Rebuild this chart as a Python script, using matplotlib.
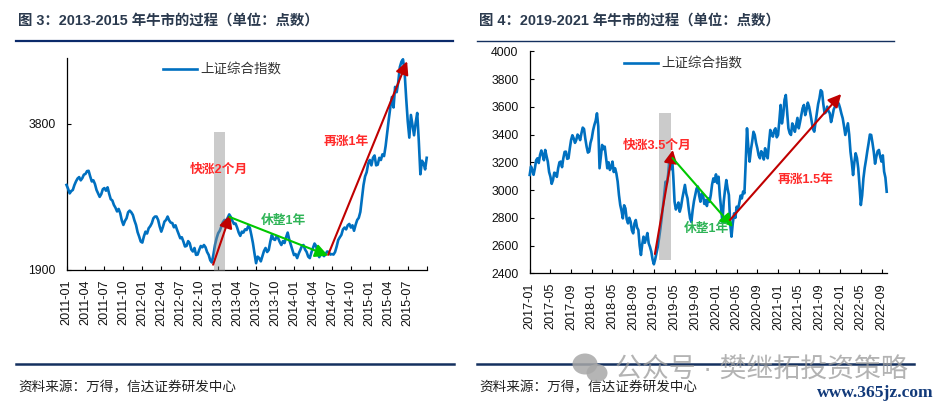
#!/usr/bin/env python3
import matplotlib
matplotlib.use("Agg")
import matplotlib.pyplot as plt
from matplotlib.lines import Line2D
from matplotlib.patches import Ellipse
import numpy as np

plt.rcParams["font.family"] = ["Liberation Sans", "Noto Sans CJK SC", "DejaVu Sans"]

W, H = 940, 408
BLUE = "#0070c0"
DARKRED = "#c00000"
RED = "#ff2a2a"
GREEN = "#00c800"
GREEN_TXT = "#2fb457"
NAVY = "#14305f"

# quarter-month samples
sse_left = [
    2842, 2790, 2730, 2760, 2775, 2840, 2890, 2930, 2950, 2905, 2935, 2985, 2995, 3035, 3040, 2960,
    2890, 2905, 2855, 2775, 2730, 2685, 2720, 2785, 2800, 2765, 2810, 2725, 2655, 2640, 2584, 2550,
    2505, 2535, 2485, 2400, 2349, 2395, 2425, 2495, 2515, 2495, 2464, 2400, 2349, 2270, 2222, 2170,
    2160, 2225, 2275, 2255, 2312, 2335, 2368, 2425, 2445, 2445, 2406, 2330, 2275, 2325, 2387, 2405,
    2445, 2400, 2375, 2370, 2323, 2345, 2294, 2250, 2205, 2215, 2170, 2120, 2126, 2175, 2153, 2090,
    2070, 2105, 2037, 2040, 2086, 2125, 2112, 2135, 2112, 2065, 2037, 1985, 1965, 2040, 2136, 2205,
    2258, 2285, 2330, 2380, 2406, 2395, 2430, 2470, 2440, 2395, 2360, 2365, 2320, 2265, 2230, 2275,
    2265, 2300, 2293, 2335, 2320, 2240, 2155, 2050, 1958, 2020, 2006, 1975, 2025, 2075, 2105, 2065,
    2085, 2170, 2241, 2195, 2187, 2225, 2205, 2165, 2135, 2175, 2155, 2215, 2265, 2190, 2135, 2085,
    2035, 2045, 2006, 2050, 2085, 2125, 2135, 2090, 2065, 2020, 2006, 2060, 2105, 2150, 2125, 2050,
    2015, 2055, 2045, 2025, 2045, 2070, 2065, 2040, 2045, 2040, 2065, 2120, 2187, 2215, 2241, 2300,
    2320, 2300, 2345, 2360, 2320, 2345, 2285, 2350, 2405, 2430, 2500, 2660, 2840, 2960, 3020, 3150,
    3201, 3120, 3234, 3270, 3120, 3130, 3234, 3200, 3288, 3260, 3420, 3650, 3885, 4120, 4320, 4110,
    4533, 4420, 4640, 4980, 5110, 5170, 4868, 4300, 3848, 3560, 3966, 3780, 3600, 3820, 4004, 3500,
    2990, 3190, 3150, 3060, 3234,
]
left_months = 57
left_labels = [
    "2011-01", "2011-04", "2011-07", "2011-10", "2012-01", "2012-04", "2012-07",
    "2012-10", "2013-01", "2013-04", "2013-07", "2013-10", "2014-01", "2014-04",
    "2014-07", "2014-10", "2015-01", "2015-04", "2015-07",
]
left_yticks = [1900, 3800]

# quarter-month samples
sse_right = [
    3109, 3170, 3145, 3110, 3157, 3215, 3229, 3195, 3253, 3285, 3253, 3215, 3289, 3245, 3205, 3130,
    3097, 3045, 3073, 3125, 3121, 3095, 3157, 3200, 3205, 3165, 3229, 3275, 3277, 3225, 3229, 3300,
    3361, 3395, 3373, 3340, 3361, 3400, 3385, 3360, 3409, 3450, 3440, 3370, 3313, 3270, 3277, 3340,
    3373, 3430, 3469, 3500, 3553, 3460, 3157, 3240, 3325, 3295, 3313, 3235, 3157, 3200, 3145, 3165,
    3205, 3130, 3157, 3120, 3061, 2965, 2892, 2850, 2796, 2890, 2868, 2790, 2760, 2800, 2772, 2710,
    2688, 2760, 2784, 2730, 2712, 2600, 2532, 2610, 2664, 2620, 2652, 2690, 2616, 2590, 2556, 2500,
    2465, 2500, 2544, 2590, 2652, 2720, 2796, 2880, 2964, 3060, 3048, 3110, 3217, 3150, 3241, 3100,
    2916, 2860, 2880, 2910, 2844, 2880, 2940, 2990, 3037, 2975, 2940, 2860, 2796, 2770, 2856, 2920,
    2964, 3010, 3025, 2960, 2916, 2975, 2964, 2900, 2928, 2885, 2940, 2915, 2964, 3040, 3084, 3060,
    3113, 3050, 3096, 2960, 2868, 2770, 2916, 3000, 3072, 3010, 2964, 2760, 2664, 2760, 2832, 2800,
    2880, 2860, 2904, 2960, 2940, 2990, 2976, 3200, 3445, 3310, 3205, 3290, 3349, 3420, 3397, 3340,
    3301, 3250, 3229, 3280, 3265, 3220, 3301, 3250, 3229, 3340, 3433, 3400, 3385, 3430, 3445, 3380,
    3397, 3500, 3613, 3480, 3541, 3650, 3685, 3560, 3445, 3410, 3397, 3480, 3457, 3420, 3469, 3520,
    3445, 3490, 3541, 3590, 3613, 3540, 3577, 3630, 3601, 3550, 3493, 3440, 3421, 3490, 3553, 3620,
    3661, 3720, 3709, 3620, 3553, 3560, 3601, 3570, 3553, 3490, 3529, 3580, 3601, 3650, 3637, 3620,
    3589, 3550, 3517, 3460, 3397, 3440, 3481, 3400, 3276, 3200, 3108, 3200, 3265, 3230, 3156, 3030,
    2892, 2960, 3084, 3160, 3217, 3280, 3337, 3400, 3397, 3340, 3276, 3190, 3241, 3280, 3289, 3240,
    3205, 3250, 3133, 3090, 2988,
]
right_months = 69
right_labels = [
    "2017-01", "2017-05", "2017-09", "2018-01", "2018-05", "2018-09",
    "2019-01", "2019-05", "2019-09", "2020-01", "2020-05", "2020-09",
    "2021-01", "2021-05", "2021-09", "2022-01", "2022-05", "2022-09",
]
right_yticks = [2400, 2600, 2800, 3000, 3200, 3400, 3600, 3800, 4000]

# arrows: (x0, y0, x1, y1, color) in months / index points
left_arrows = [
    (23.2, 1944, 25.9, 2465, DARKRED),
    (25.8, 2440, 41.4, 2030, GREEN),
    (41.4, 2037, 53.9, 5120, DARKRED),
]
right_arrows = [
    (24.2, 2539, 27.66, 3289, DARKRED),
    (27.6, 3231, 39.25, 2734, GREEN),
    (38.7, 2784, 60.2, 3692, DARKRED),
]
left_notes = [
    ("快涨2个月", 24.1, 3052, RED),
    ("再涨1年", 44.2, 3470, RED),
    ("休整1年", 34.4, 2395, GREEN_TXT),
]
right_notes = [
    ("快涨3.5个月", 24.6, 3317, RED),
    ("再涨1.5年", 53.3, 3065, RED),
    ("休整1年", 34.2, 2719, GREEN_TXT),
]

# full-width punctuation, written as escapes so it stays full-width
title_left = "图 3\uff1a2013-2015 年牛市的过程\uff08单位\uff1a点数\uff09"
title_right = "图 4\uff1a2019-2021 年牛市的过程\uff08单位\uff1a点数\uff09"
source_text = "资料来源\uff1a万得\uff0c信达证券研发中心"


def axes_px(fig, x0, y_top, x1, y_bottom):
    return fig.add_axes([x0 / W, 1 - y_bottom / H, (x1 - x0) / W, (y_bottom - y_top) / H])


def hline(fig, x0, x1, y, color, lw):
    fig.add_artist(Line2D([x0 / W, x1 / W], [1 - y / H, 1 - y / H], color=color, lw=lw))


def draw_panel(ax, values, months, labels, step, arrows, notes, band, legend_at):
    xs = np.linspace(0, months, len(values))
    ax.plot(xs, values, color=BLUE, lw=1.9, label="上证综合指数", clip_on=False, zorder=3)
    # grey band sits over the line, the line shows through muted
    ax.fill_between(band[:2], band[2], band[3], color="#8c8c8c", alpha=0.45, lw=0,
                    clip_on=False, zorder=4)

    for x0, y0, x1, y1, c in arrows:
        ax.annotate("", xy=(x1, y1), xytext=(x0, y0), zorder=5, annotation_clip=False,
                    arrowprops=dict(arrowstyle="-|>,head_length=0.55,head_width=0.28",
                                    color=c, lw=1.5, shrinkA=0, shrinkB=0, mutation_scale=14))
    for txt, x, y, c in notes:
        ax.text(x, y, txt, color=c, fontsize=9.2, fontweight="bold", ha="center", va="center",
                zorder=6)

    ticks = list(np.arange(len(labels)) * step)
    tick_labels = list(labels)
    if ticks[-1] + step <= months:
        ticks.append(ticks[-1] + step)
        tick_labels.append("")
    ax.set_xticks(ticks)
    ax.set_xticklabels(tick_labels, rotation=90, fontsize=9.1, color="#111111")
    ax.set_xlim(0, months)
    ax.tick_params(axis="x", direction="in", length=3.2, width=0.8, pad=7)
    ax.tick_params(axis="y", direction="in", length=3.2, width=0.8, pad=8, labelsize=8.8,
                   labelcolor="#111111")
    ax.spines["top"].set_visible(False)
    ax.spines["right"].set_visible(False)
    ax.spines["left"].set_linewidth(0.9)
    ax.spines["bottom"].set_linewidth(0.9)
    ax.patch.set_alpha(0)

    ax.legend(loc="center", bbox_to_anchor=legend_at, frameon=False, fontsize=9.7,
              handlelength=2.55, handletextpad=0.25, labelcolor="#333333",
              borderpad=0, borderaxespad=0)


fig = plt.figure(figsize=(W / 100, H / 100), dpi=100)

ax1 = axes_px(fig, 66.5, 58.3, 426.7, 269.5)
ax1.set_yscale("log", base=2)
ax1.set_ylim(1900, 5194)
draw_panel(ax1, sse_left, left_months, left_labels, 3, left_arrows, left_notes,
           (23.3, 25.1, 1890, 3659), (0.432, 0.945))
ax1.set_yticks(left_yticks)
ax1.set_yticklabels([str(v) for v in left_yticks])
ax1.minorticks_off()

ax2 = axes_px(fig, 529.7, 51.3, 886.7, 273.3)
ax2.set_ylim(2400, 4000)
draw_panel(ax2, sse_right, right_months, right_labels, 4, right_arrows, right_notes,
           (24.96, 27.3, 2496, 3555), (0.43, 0.943))
ax2.set_yticks(right_yticks)
ax2.set_yticklabels([str(v) for v in right_yticks])

# headers, rules, source lines
TITLE_C = "#2b3a4e"
fig.text(18 / W, 1 - 21 / H, title_left, fontsize=10.4, fontweight="bold", color=TITLE_C, va="center")
fig.text(479 / W, 1 - 21 / H, title_right, fontsize=10.4, fontweight="bold", color=TITLE_C, va="center")
hline(fig, 16, 453, 41, "#0b2a6a", 1.6)
hline(fig, 477, 894, 40.5, NAVY, 1.0)
hline(fig, 16, 454, 364, NAVY, 1.8)
hline(fig, 477, 914, 364, NAVY, 1.8)
fig.text(18 / W, 1 - 387 / H, source_text, fontsize=9.8, color="#222222", va="center")
fig.text(479 / W, 1 - 387 / H, source_text, fontsize=9.8, color="#222222", va="center")

# watermark
fig.text(615 / W, 1 - 370 / H, "公众号 · 樊继拓投资策略", fontsize=19.4, color="#9a9a9a", alpha=0.75,
         va="center", zorder=10)
for cx, cy, ew, eh in [(585, 364, 25, 21), (597, 373, 21, 18)]:
    fig.add_artist(Ellipse((cx / W, 1 - cy / H), ew / W, eh / H, transform=fig.transFigure,
                           color="#a8a8a8", alpha=0.85, lw=0, zorder=10))
fig.text(817 / W, 1 - 393 / H, "www.365jz.com", fontsize=12.6, fontweight="bold",
         family="Liberation Serif", color="#123a7a", va="center", zorder=11)

fig.savefig("out.png", dpi=100)
